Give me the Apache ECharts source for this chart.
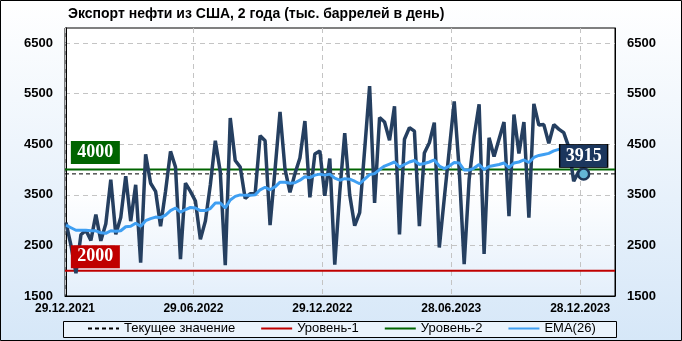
<!DOCTYPE html>
<html><head><meta charset="utf-8">
<script src="https://cdn.jsdelivr.net/npm/echarts@6/dist/echarts.min.js"></script>
<style>html,body{margin:0;padding:0;background:#fff}#c{width:682px;height:341px}</style>
</head><body><div id="c"></div><script>
const chartTitle = 'Экспорт нефти из США, 2 года (тыс. баррелей в день)';
// weekly values, index = week number
const exportsKbd = [
 2950,2500,1950,2710,2800,2600,3110,2590,2930,3800,
 2720,3050,3870,2980,3700,2160,4300,3730,3570,2880,
 3570,4360,4050,2230,3730,3570,3380,2620,2980,3700,
 4570,3950,2110,5020,4180,4050,3430,3520,3520,4670,
 4570,2900,4000,5140,4010,3550,3920,4230,4960,3450,
 4310,4370,3480,4220,2120,3550,4720,3500,2890,3150,
 4390,5650,3340,5030,4940,4580,5250,2720,4600,4830,
 4760,2880,4330,4530,4930,2460,3430,4390,5350,4000,
 2130,3810,4660,5290,2330,4630,4260,4600,4940,3080,
 5090,4320,4940,3050,5300,4880,4890,4520,4890,4800,
 4730,4450,3770,3960,3915];
const ema26 = [
 2900,2850,2800,2800,2800,2790,2790,2750,2740,2790,
 2780,2790,2870,2880,2940,2880,2990,3030,3060,3050,
 3100,3190,3240,3160,3210,3250,3240,3190,3190,3230,
 3340,3340,3240,3400,3470,3500,3490,3490,3500,3600,
 3650,3600,3660,3750,3750,3730,3740,3790,3860,3840,
 3890,3910,3890,3910,3830,3790,3820,3810,3770,3720,
 3810,3900,3920,4000,4070,4110,4150,4050,4100,4150,
 4180,4100,4120,4150,4190,4070,4020,4070,4140,4130,
 3990,3990,4030,4100,4000,4060,4080,4100,4130,4040,
 4130,4150,4190,4140,4240,4280,4300,4320,4370,4400,
 4420,4430,4400,4390,4380];
const xTickLabels = ['29.12.2021','29.06.2022','29.12.2022','28.06.2023','28.12.2023'];
const xTickWeeks = [-0.2, 25.6, 51.5, 77.4, 103.3];
const yTickValues = [1500,2500,3500,4500,5500,6500];
const level1 = 2000;
const level2 = 4000;
const xMin = -0.2, xMax = 110.3, yMin = 1500, yMax = 6800;

const lastIdx = exportsKbd.length - 1;
const lastVal = exportsKbd[lastIdx];
const pts = a => a.map((v,i)=>[i,v]);
const hline = v => [[xMin,v],[xMax,v]];
const FONT = 'Liberation Sans, Arial, sans-serif';
const SERIF = 'Liberation Serif, Times New Roman, serif';

const chart = echarts.init(document.getElementById('c'));
chart.setOption({
  animation:false,
  textStyle:{fontFamily:FONT},
  graphic:[
    {type:'rect', z:-10, shape:{x:0.5,y:0.5,width:681,height:340},
     style:{fill:new echarts.graphic.LinearGradient(0,0,0,1,[{offset:0,color:'#ffffff'},{offset:1,color:'#d6e7f8'}]),stroke:'#000',lineWidth:1}},
    {type:'rect', z:-5, shape:{x:63.5,y:321.5,width:553,height:16},
     style:{fill:'#eaf3fc',stroke:'#000',lineWidth:1}}
  ],
  title:{text:chartTitle,left:63,top:2,textStyle:{fontSize:14,fontWeight:'bold',color:'#000',fontFamily:FONT}},
  legend:{top:322,left:87,itemGap:25,itemWidth:31,itemHeight:10,padding:0,
    itemStyle:{opacity:0},
    textStyle:{fontSize:13,color:'#000',fontFamily:FONT},
    data:['Текущее значение','Уровень-1','Уровень-2','EMA(26)']},
  grid:{left:65,right:67,top:28,height:268,show:true,borderColor:'#000',borderWidth:1,
    backgroundColor:new echarts.graphic.LinearGradient(0,0,0,1,[{offset:0,color:'#ffffff'},{offset:0.6,color:'#ffffff'},{offset:1,color:'#e4effb'}])},
  xAxis:{type:'value',min:xMin,max:xMax,
    axisLine:{show:true,lineStyle:{color:'#000'}},
    axisTick:{show:false,customValues:xTickWeeks},
    axisLabel:{customValues:xTickWeeks,margin:7,fontSize:12,fontWeight:'bold',color:'#000',
      formatter:v=>{const k=xTickWeeks.findIndex(t=>Math.abs(t-v)<1e-6);return k>=0?xTickLabels[k]:'';}},
    splitLine:{show:true,lineStyle:{color:'#c4c4c4',type:[5,4],width:1}}},
  yAxis:[
    {type:'value',min:yMin,max:yMax,position:'left',
     axisLine:{show:true,lineStyle:{color:'#000'}},
     axisTick:{show:false,customValues:yTickValues},
     axisLabel:{customValues:yTickValues,margin:12,fontSize:13,fontWeight:'bold',color:'#000',formatter:v=>String(v)},
     splitLine:{show:true,lineStyle:{color:'#c4c4c4',type:[5,4],width:1}}},
    {type:'value',min:yMin,max:yMax,position:'right',
     axisLine:{show:true,lineStyle:{color:'#000'}},
     axisTick:{show:false,customValues:yTickValues},
     axisLabel:{customValues:yTickValues,margin:12,fontSize:13,fontWeight:'bold',color:'#000',formatter:v=>String(v)},
     splitLine:{show:false}}
  ],
  series:[
    {name:'Текущее значение',type:'line',data:hline(lastVal),symbol:'none',z:1,
     lineStyle:{color:'#000',width:1,type:[4,3]},itemStyle:{color:'#000'}},
    {name:'Уровень-1',type:'line',data:hline(level1),symbol:'none',z:1,
     lineStyle:{color:'#c00000',width:2},itemStyle:{color:'#c00000'},
     markPoint:{symbol:'rect',symbolSize:[49,23],silent:true,
       data:[{coord:[5.9,level1],symbolOffset:[0,-14],itemStyle:{color:'#c00000'},
         label:{show:true,position:'inside',formatter:String(level1),color:'#fff',fontSize:18,fontWeight:'bold',fontFamily:SERIF}}]}},
    {name:'Уровень-2',type:'line',data:hline(level2),symbol:'none',z:1,
     lineStyle:{color:'#006400',width:2},itemStyle:{color:'#006400'},
     markPoint:{symbol:'rect',symbolSize:[49,23],silent:true,
       data:[{coord:[5.9,level2],symbolOffset:[0,-17],itemStyle:{color:'#006400'},
         label:{show:true,position:'inside',formatter:String(level2),color:'#fff',fontSize:18,fontWeight:'bold',fontFamily:SERIF}}]}},
    {name:'Экспорт',type:'line',data:pts(exportsKbd),symbol:'none',z:3,
     lineStyle:{color:'#253f60',width:3.5},itemStyle:{color:'#253f60'}},
    {name:'EMA(26)',type:'line',data:pts(ema26),symbol:'none',z:4,
     lineStyle:{color:'#3f9ff2',width:3},itemStyle:{color:'#3f9ff2'},
     markPoint:{silent:true,z:10,
       data:[
        {coord:[lastIdx,lastVal],symbol:'circle',symbolSize:11,itemStyle:{color:'#64b5d6',borderColor:'#1d3557',borderWidth:2.5},label:{show:false}},
        {coord:[lastIdx,lastVal],symbol:'rect',symbolSize:[48,23],symbolOffset:[0,-18],itemStyle:{color:'#1b365d',borderColor:'#000',borderWidth:1},
         label:{show:true,position:'inside',formatter:String(lastVal),color:'#fff',fontSize:18,fontWeight:'bold',fontFamily:SERIF}}
       ]}}
  ]
});
</script></body></html>
